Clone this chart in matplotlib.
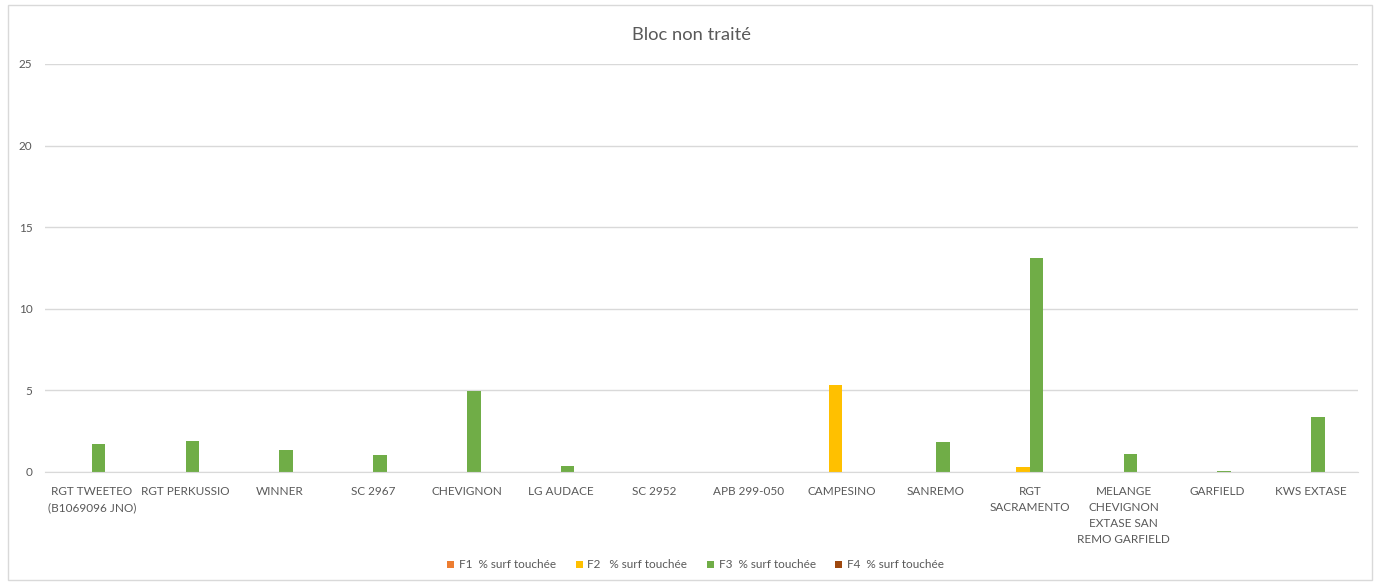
import matplotlib
matplotlib.use("Agg")
import matplotlib.pyplot as plt
import numpy as np
from matplotlib.patches import Rectangle

categories = ["RGT TWEETEO\n(B1069096 JNO)", "RGT PERKUSSIO", "WINNER", "SC 2967",
              "CHEVIGNON", "LG AUDACE", "SC 2952", "APB 299-050", "CAMPESINO",
              "SANREMO", "RGT\nSACRAMENTO", "MELANGE\nCHEVIGNON\nEXTASE SAN\nREMO GARFIELD",
              "GARFIELD", "KWS EXTASE"]
f1 = [0, 0, 0, 0, 0, 0, 0, 0, 0, 0, 0, 0, 0, 0]
f2 = [0, 0, 0, 0, 0, 0, 0, 0, 5.33, 0, 0.3, 0, 0, 0]
f3 = [1.7, 1.88, 1.35, 1.06, 4.95, 0.35, 0, 0, 0, 1.85, 13.13, 1.09, 0.08, 3.38]
f4 = [0, 0, 0, 0, 0, 0, 0, 0, 0, 0, 0, 0, 0, 0]
series_names = ["F1  % surf touchée", "F2   % surf touchée", "F3  % surf touchée", "F4  % surf touchée"]
colors = ["#ED7D31", "#FFC000", "#70AD47", "#9E480E"]

plt.rcParams['font.family'] = ['Lato', 'DejaVu Sans']
txt = "#595959"

fig = plt.figure(figsize=(13.81, 5.85), dpi=100)
fig.patches.append(Rectangle((8/1381, 5/585), 1364/1381, 575/585, transform=fig.transFigure,
                             fill=False, edgecolor="#D9D9D9", linewidth=1))
ax = fig.add_axes([45/1381, 1-472/585, (1358-45)/1381, (472-64)/585])

x = np.arange(len(categories))
w = 0.145
for i, (vals, name, c) in enumerate(zip([f1, f2, f3, f4], series_names, colors)):
    ax.bar(x + (i - 1.5) * w, vals, width=w, color=c, label=name)

ax.set_xlim(-0.5, len(categories) - 0.5)
ax.set_ylim(0, 25)
ax.set_yticks([0, 5, 10, 15, 20, 25])
ax.yaxis.grid(True, color="#D9D9D9", linewidth=1)
ax.set_axisbelow(True)
for s in ["top", "right", "left"]:
    ax.spines[s].set_visible(False)
ax.spines["bottom"].set_color("#D9D9D9")
ax.tick_params(axis="both", length=0, colors=txt, labelsize=8.5)
ax.tick_params(axis="x", pad=10)
ax.tick_params(axis="y", pad=9)
ax.set_xticks(x)
ax.set_xticklabels(categories, linespacing=1.55)

fig.text(692/1381, 1-35/585, "Bloc non traité", ha="center", va="center", fontsize=13.2, color=txt)

leg = ax.legend(loc="center", bbox_to_anchor=(0.4955, -(565-472)/(472-64)), bbox_transform=ax.transAxes,
                ncol=4, frameon=False, fontsize=8.5, handlelength=0.6, handleheight=0.6,
                handletextpad=0.4, columnspacing=1.65, labelcolor=txt)

fig.savefig("out.png", dpi=100)
